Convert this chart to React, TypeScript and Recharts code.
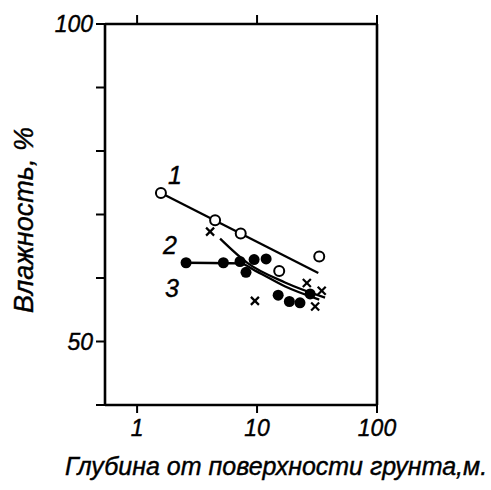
import React from 'react';
import { ComposedChart, Line, Scatter, XAxis, YAxis } from 'recharts';

// depth (m) vs moisture (%)
const openCircles = [
  { x: 1.58, y: 73.4 },
  { x: 4.47, y: 69.1 },
  { x: 7.31, y: 67.0 },
  { x: 15.3, y: 61.1 },
  { x: 33.0, y: 63.4 },
];
const crosses = [
  { x: 4.06, y: 67.3 },
  { x: 9.6, y: 56.4 },
  { x: 26.0, y: 59.2 },
  { x: 34.6, y: 58.0 },
  { x: 30.5, y: 55.5 },
];
const filledCircles = [
  { x: 2.56, y: 62.4 },
  { x: 5.24, y: 62.4 },
  { x: 7.21, y: 62.6 },
  { x: 9.45, y: 62.9 },
  { x: 11.9, y: 63.0 },
  { x: 8.09, y: 60.9 },
  { x: 15.0, y: 57.3 },
  { x: 18.6, y: 56.3 },
  { x: 22.8, y: 56.1 },
  { x: 27.7, y: 57.5 },
];
const curve1 = [
  { x: 1.58, y: 73.4 },
  { x: 32.4, y: 60.8 },
];
const curve2 = [
  { x: 4.92, y: 66.2 },
  { x: 8.41, y: 62.3 },
  { x: 17.1, y: 59.3 },
  { x: 36.9, y: 56.9 },
];
const curve3 = [
  { x: 2.56, y: 62.4 },
  { x: 7.2, y: 62.3 },
  { x: 10, y: 61.0 },
  { x: 17, y: 58.7 },
  { x: 33, y: 56.6 },
];

const xTicks = [1, 10, 100];
const yTicks = [40, 50, 60, 70, 80, 90, 100];
const yLabeled = [50, 100];

const FONT = '"Liberation Sans", Arial, sans-serif';
const txt = { fontFamily: FONT, fontStyle: 'italic', fill: '#000', stroke: '#000', strokeWidth: 0.4 } as const;

const nothing = () => <g />;

const XTick = (props: any) => {
  const { x, y, payload } = props;
  return (
    <text x={x} y={y + 21} textAnchor="middle" fontSize={23} style={txt}>
      {payload.value}
    </text>
  );
};

const YTick = (props: any) => {
  const { x, y, payload } = props;
  if (!yLabeled.includes(payload.value)) return <g />;
  return (
    <text x={x - 1} y={y + 8} textAnchor="end" fontSize={23} style={txt}>
      {payload.value}
    </text>
  );
};

const OpenDot = (p: any) => (
  <circle cx={p.cx} cy={p.cy} r={5} fill="#fff" stroke="#000" strokeWidth={2} />
);
const FilledDot = (p: any) => <circle cx={p.cx} cy={p.cy} r={5.5} fill="#000" />;
const Cross = (p: any) => (
  <g stroke="#000" strokeWidth={2.2}>
    <line x1={p.cx - 4} y1={p.cy - 4} x2={p.cx + 4} y2={p.cy + 4} />
    <line x1={p.cx - 4} y1={p.cy + 4} x2={p.cx + 4} y2={p.cy - 4} />
  </g>
);

const axisLine = { stroke: '#000', strokeWidth: 2.6 };
const tickLine = { stroke: '#000', strokeWidth: 2 };

export default function App() {
  return (
    <div style={{ position: 'absolute', left: 0, top: 0, width: 491, height: 490, background: '#fff' }}>
      <ComposedChart width={491} height={490} margin={{ top: 14, right: 100, bottom: 45, left: 65 }}>
        <XAxis
          xAxisId="b"
          dataKey="x"
          type="number"
          scale="log"
          domain={[0.54, 100]}
          ticks={xTicks}
          allowDataOverflow
          height={40}
          axisLine={axisLine}
          tickLine={tickLine}
          tickSize={8}
          tick={<XTick />}
        />
        <XAxis
          xAxisId="t"
          orientation="top"
          dataKey="x"
          type="number"
          scale="log"
          domain={[0.54, 100]}
          ticks={xTicks}
          allowDataOverflow
          height={10}
          axisLine={axisLine}
          tickLine={tickLine}
          tickSize={9}
          tick={nothing}
        />
        <YAxis
          yAxisId="l"
          type="number"
          domain={[40, 100]}
          ticks={yTicks}
          width={40}
          axisLine={axisLine}
          tickLine={tickLine}
          tickSize={9}
          tick={<YTick />}
        />
        <YAxis
          yAxisId="r"
          orientation="right"
          type="number"
          domain={[40, 100]}
          ticks={yTicks}
          width={14}
          axisLine={axisLine}
          tickLine={tickLine}
          tickSize={7}
          tick={nothing}
        />
        <Line xAxisId="b" yAxisId="l" data={curve1} dataKey="y" type="linear" stroke="#000" strokeWidth={2.3} dot={false} isAnimationActive={false} />
        <Line xAxisId="b" yAxisId="l" data={curve2} dataKey="y" type="monotone" stroke="#000" strokeWidth={2.3} dot={false} isAnimationActive={false} />
        <Line xAxisId="b" yAxisId="l" data={curve3} dataKey="y" type="monotone" stroke="#000" strokeWidth={2.3} dot={false} isAnimationActive={false} />
        <Scatter xAxisId="b" yAxisId="l" data={filledCircles} dataKey="y" shape={<FilledDot />} isAnimationActive={false} />
        <Scatter xAxisId="b" yAxisId="l" data={crosses} dataKey="y" shape={<Cross />} isAnimationActive={false} />
        <Scatter xAxisId="b" yAxisId="l" data={openCircles} dataKey="y" shape={<OpenDot />} isAnimationActive={false} />
        <text x={175} y={184} textAnchor="middle" fontSize={25} style={txt}>1</text>
        <text x={170} y={254} textAnchor="middle" fontSize={25} style={txt}>2</text>
        <text x={172} y={297} textAnchor="middle" fontSize={25} style={txt}>3</text>
        <text
          x={0}
          y={0}
          transform="translate(33 220) rotate(-90)"
          textAnchor="middle"
          fontSize={27}
          style={txt}
        >
          Влажность, %
        </text>
        <text x={276} y={475} textAnchor="middle" fontSize={25} style={txt}>
          Глубина от поверхности грунта,м.
        </text>
      </ComposedChart>
    </div>
  );
}
